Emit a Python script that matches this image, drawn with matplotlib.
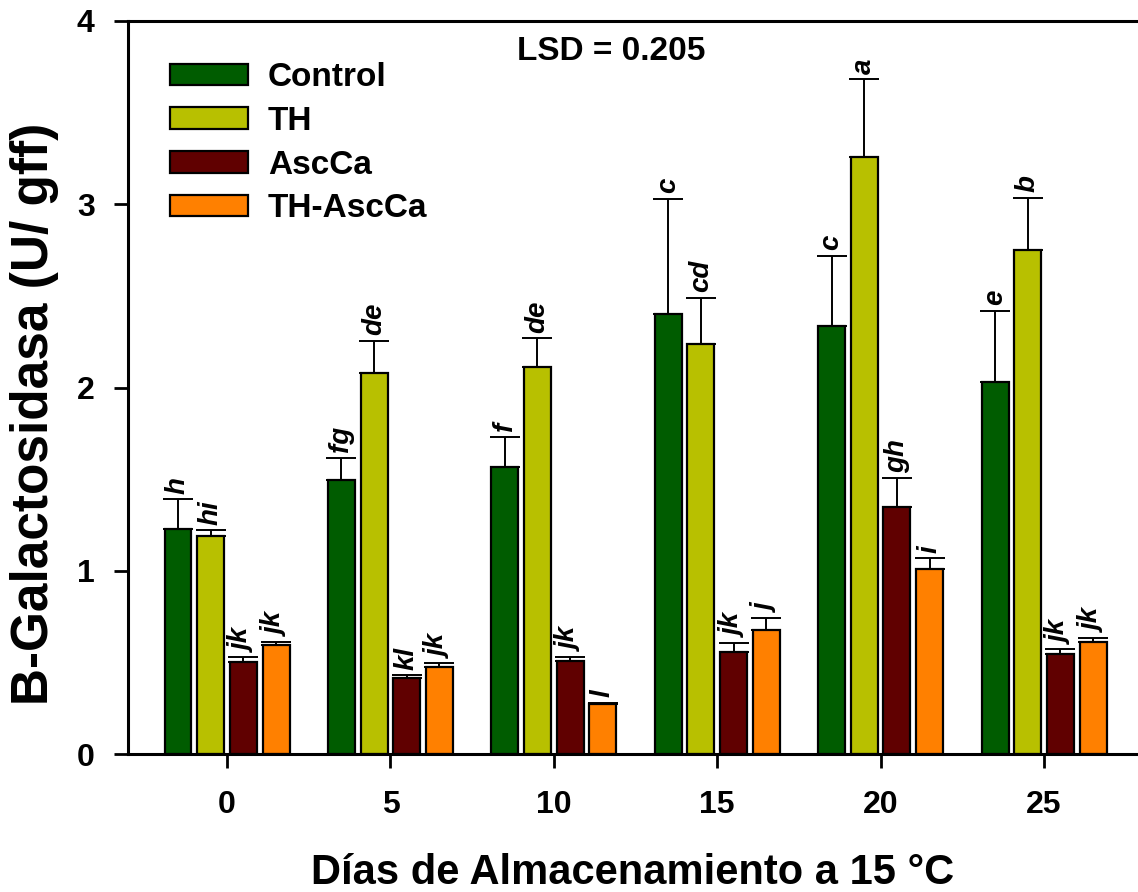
import numpy as np
import matplotlib
matplotlib.use("Agg")
import matplotlib.pyplot as plt

plt.rcParams['font.family'] = ['Liberation Sans', 'DejaVu Sans']
plt.rcParams['font.weight'] = 'bold'

days = ["0", "5", "10", "15", "20", "25"]
treatments = ["Control", "TH", "AscCa", "TH-AscCa"]

control = [1.228, 1.495, 1.568, 2.400, 2.335, 2.030]
th = [1.190, 2.077, 2.110, 2.237, 3.260, 2.748]
ascca = [0.500, 0.413, 0.509, 0.559, 1.350, 0.544]
th_ascca = [0.595, 0.476, 0.271, 0.674, 1.010, 0.611]

control_se = [0.162, 0.122, 0.164, 0.630, 0.385, 0.390]
th_se = [0.030, 0.178, 0.158, 0.253, 0.423, 0.287]
ascca_se = [0.028, 0.016, 0.022, 0.048, 0.154, 0.027]
th_ascca_se = [0.016, 0.019, 0.009, 0.069, 0.057, 0.023]

control_letters = ["h", "fg", "f", "c", "c", "e"]
th_letters = ["hi", "de", "de", "cd", "a", "b"]
ascca_letters = ["jk", "kl", "jk", "jk", "gh", "jk"]
th_ascca_letters = ["jk", "jk", "l", "j", "i", "jk"]

colors = ["#005c00", "#b8c000", "#600000", "#ff8000"]

series = [control, th, ascca, th_ascca]
errors = [control_se, th_se, ascca_se, th_ascca_se]
letters = [control_letters, th_letters, ascca_letters, th_ascca_letters]

fig = plt.figure(figsize=(11.38, 8.92), dpi=100)
ax = fig.add_axes([128 / 1138, 138 / 892, 1 - 128 / 1138, (754 - 21) / 892])

x = np.arange(len(days))
step = 0.2
width = 0.165
for i, (vals, se, labs, col, name) in enumerate(zip(series, errors, letters, colors, treatments)):
    pos = x + (i - 1.5) * step
    ax.bar(pos, vals, width=width, color=col, edgecolor="black", linewidth=1.6,
           label=name, zorder=2)
    ax.errorbar(pos, vals, yerr=[np.zeros(len(vals)), se], fmt="none",
                ecolor="black", elinewidth=1.4, capsize=11, capthick=1.4, zorder=3)
    for p, v, s, t in zip(pos, vals, se, labs):
        ax.annotate(t, (p, v + s), xytext=(0, 4), textcoords="offset points",
                    rotation=90, ha="center", va="bottom", fontsize=20,
                    fontweight="bold", fontstyle="italic")

ax.set_xlim(-0.606, 5.575)
ax.set_ylim(0, 4)
ax.set_yticks([0, 1, 2, 3, 4])
ax.set_xticks(x)
ax.set_xticklabels(days)
ax.tick_params(axis="both", direction="out", length=10, width=2, labelsize=23)
ax.tick_params(axis="x", pad=16)
ax.tick_params(axis="y", pad=14)
for lab in ax.get_xticklabels() + ax.get_yticklabels():
    lab.set_fontweight("bold")

ax.spines["right"].set_visible(False)
for side in ["left", "bottom", "top"]:
    ax.spines[side].set_linewidth(2.2)

ax.set_xlabel("Días de Almacenamiento a 15 °C", fontsize=30, fontweight="bold", labelpad=24)
ax.set_ylabel("B-Galactosidasa (U/ gff)", fontsize=37, fontweight="bold")
ax.yaxis.set_label_coords(-0.068, 0.464)

ax.text(0.478, 0.958, "LSD = 0.205", transform=ax.transAxes, ha="center", va="center",
        fontsize=24, fontweight="bold")

leg = ax.legend(loc="upper left", bbox_to_anchor=(0.028, 0.962), frameon=False,
                fontsize=24, handlelength=2.35, handleheight=0.62,
                handletextpad=0.6, labelspacing=0.38, borderaxespad=0)
for t in leg.get_texts():
    t.set_fontweight("bold")

fig.savefig("out.png", dpi=100)
